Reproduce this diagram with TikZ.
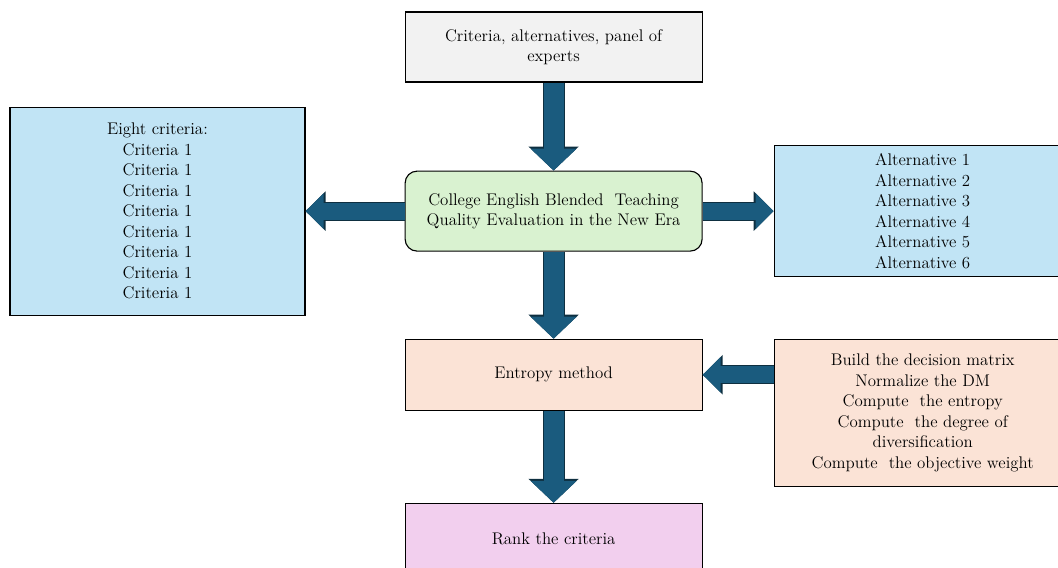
\documentclass[tikz,border=0pt]{standalone}
\usetikzlibrary{arrows.meta,positioning}
\definecolor{arrowblue}{HTML}{1A5B7E}
\definecolor{arrowedge}{HTML}{0E2F40}
\definecolor{topgray}{HTML}{F2F2F2}
\definecolor{midgreen}{HTML}{D9F2D0}
\definecolor{sideblue}{HTML}{C1E4F5}
\definecolor{peach}{HTML}{FBE3D6}
\definecolor{lilac}{HTML}{F2CFEE}

\begin{document}
\begin{tikzpicture}[
  font=\fontsize{12}{14.6}\selectfont,
  box/.style={draw, line width=0.8pt, align=center, inner sep=3pt, minimum width=74.25mm},
  fat/.style={draw=arrowblue, line width=5mm, -{Triangle[length=5.5mm, width=11.2mm]},
    preaction={draw=arrowedge, line width=5.5mm, -{Triangle[length=6mm, width=12.2mm]}}},
  hfat/.style={draw=arrowblue, line width=4.2mm, -{Triangle[length=4.5mm, width=8.6mm]},
    preaction={draw=arrowedge, line width=4.7mm, -{Triangle[length=5mm, width=9.6mm]}}}
]
\clip (0,0) rectangle (26.45,-14.175);
\node[box, fill=topgray, minimum height=17.5mm] (inp) at (13.84,-1.175)
  {Criteria, alternatives, panel of\\experts};
\node[box, fill=midgreen, rounded corners=3mm, minimum height=20mm, below=22mm of inp] (cen)
  {College English Blended\ \ Teaching\\Quality Evaluation in the New Era};
\node[box, fill=sideblue, minimum width=73.75mm, minimum height=52mm, left=24.75mm of cen] (crit)
  {Eight criteria:\\Criteria 1\\Criteria 1\\Criteria 1\\Criteria 1\\Criteria 1\\Criteria 1\\Criteria 1\\Criteria 1};
\node[box, fill=sideblue, minimum height=32.75mm, right=17.75mm of cen] (alt)
  {Alternative 1\\Alternative 2\\Alternative 3\\Alternative 4\\Alternative 5\\Alternative 6};
\node[box, fill=peach, minimum height=17.75mm, below=21.75mm of cen] (ent) {Entropy method};
\node[box, fill=peach, minimum height=36.75mm, right=17.75mm of ent.north east, anchor=north west] (build)
  {Build the decision matrix\\Normalize the DM\\Compute\ \ the entropy\\Compute\ \ the degree of\\diversification\\Compute\ \ the objective weight};
\node[box, fill=lilac, minimum height=17.5mm, below=23mm of ent] (rank) {Rank the criteria};
\draw[fat] (inp) -- (cen);
\draw[fat] (cen) -- (ent);
\draw[fat] (ent) -- (rank);
\draw[hfat] (cen) -- (crit);
\draw[hfat] (cen) -- (alt);
\draw[hfat] (build.west |- ent) -- (ent);
\end{tikzpicture}
\end{document}
